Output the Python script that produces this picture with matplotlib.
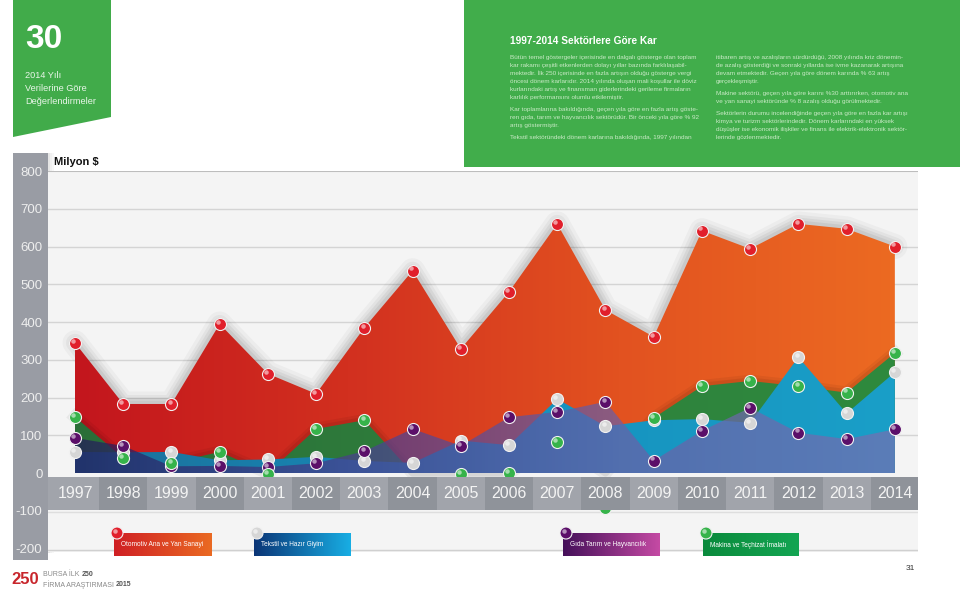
import numpy as np
import matplotlib
matplotlib.use('Agg')
import matplotlib.pyplot as plt
from matplotlib.patches import Rectangle, Polygon
from matplotlib.colors import LinearSegmentedColormap

# data (Milyon $)
years = np.arange(1997, 2015)
year_labels = [str(y) for y in years]
otomotiv = [345, 183, 183, 395, 263, 210, 385, 536, 329, 480, 660, 432, 361, 642, 594, 660, 647, 600]
tekstil = [56, 55, 56, 34, 36, 43, 32, 27, 86, 74, 196, 124, 140, 143, 133, 307, 158, 267]
gida = [93, 72, 18, 19, 16, 26, 58, 117, 72, 148, 162, 189, 33, 112, 173, 107, 90, 116]
makina = [149, 40, 27, 56, -2, 117, 140, -35, -3, 0, 82, -93, 146, 230, 244, 230, 213, 318]
y_ticks = [800, 700, 600, 500, 400, 300, 200, 100, 0, -100, -200]
legend_names = ['Otomotiv Ana ve Yan Sanayi', 'Tekstil ve Hazır Giyim',
                'Gıda Tarım ve Hayvancılık', 'Makina ve Teçhizat İmalatı']

title = '1997-2014 Sektörlere Göre Kar'
col_left = [
    'Bütün temel göstergeler içerisinde en dalgalı gösterge olan toplam',
    'kar rakamı çeşitli etkenlerden dolayı yıllar bazında farklılaşabil-',
    'mektedir. İlk 250 içerisinde en fazla artışın olduğu gösterge vergi',
    'öncesi dönem karlarıdır. 2014 yılında oluşan mali koşullar ile döviz',
    'kurlarındaki artış ve finansman giderlerindeki gerileme firmaların',
    'karlılık performansını olumlu etkilemiştir.',
    '',
    'Kar toplamlarına bakıldığında, geçen yıla göre en fazla artış göste-',
    'ren gıda, tarım ve hayvancılık sektörüdür. Bir önceki yıla göre % 92',
    'artış göstermiştir.',
    '',
    'Tekstil sektöründeki dönem karlarına bakıldığında, 1997 yılından',
]
col_right = [
    'itibaren artış ve azalışların sürdürdüğü, 2008 yılında kriz dönemin-',
    'de azalış gösterdiği ve sonraki yıllarda ise ivme kazanarak artışına',
    'devam etmektedir. Geçen yıla göre dönem karında % 63 artış',
    'gerçekleşmiştir.',
    '',
    'Makine sektörü, geçen yıla göre karını %30 arttırırken, otomotiv ana',
    've yan sanayi sektöründe % 8 azalış olduğu görülmektedir.',
    '',
    'Sektörlerin durumu incelendiğinde geçen yıla göre en fazla kar artışı',
    'kimya ve turizm sektörlerindedir. Dönem karlarındaki en yüksek',
    'düşüşler ise ekonomik ilişkiler ve finans ile elektrik-elektronik sektör-',
    'lerinde gözlenmektedir.',
]

plt.rcParams['font.family'] = ['Liberation Sans', 'DejaVu Sans']

W, H = 960, 590
fig = plt.figure(figsize=(9.6, 5.9), dpi=100)


def box(x0, y0, x1, y1):
    return [x0 / W, 1 - y1 / H, (x1 - x0) / W, (y1 - y0) / H]


def grad_cmap(colors):
    return LinearSegmentedColormap.from_list('g', colors)


# background layer in pixel coords
bg = fig.add_axes([0, 0, 1, 1], zorder=0)
bg.set_xlim(0, W)
bg.set_ylim(H, 0)
bg.axis('off')
bg.add_patch(Polygon([(13, 0), (111, 0), (111, 117), (13, 137)], closed=True,
                     fc='#41ab4a', ec='none'))
bg.add_patch(Rectangle((464, 0), 496, 167, fc='#41ad4b', ec='none'))
bg.add_patch(Rectangle((13, 153), 35, 407, fc='#999ca4', ec='none'))
for k, a in enumerate([0.10, 0.06, 0.03]):
    bg.add_patch(Rectangle((48 + k * 2, 153), 2, 400, fc='k', alpha=a, ec='none'))

bg.text(25, 40, '30', color='white', fontsize=24, fontweight='bold', va='center', ha='left')
for i, s in enumerate(['2014 Yılı', 'Verilerine Göre', 'Değerlendirmeler']):
    bg.text(25, 75 + i * 13.5, s, color='#e9f6e9', fontsize=6.6, va='center', ha='left')

bg.text(510, 41, title, color='white', fontsize=7.3, fontweight='bold', va='center', ha='left')
pale = '#c9eac6'


def para(x, lines, y0):
    y = y0
    for s in lines:
        if s == '':
            y += 4
            continue
        bg.text(x, y, s, color=pale, fontsize=4.6, va='center', ha='left')
        y += 8


para(510, col_left, 57.3)
para(716, col_right, 57.3)

bg.text(54, 162, 'Milyon $', color='#111111', fontsize=8, fontweight='bold', va='center', ha='left')

# footer
bg.text(11, 580, '250', color='#c8262c', fontsize=12, fontweight='bold', va='center', ha='left')
t1 = bg.text(43, 575, 'BURSA İLK ', color='#8a8a8a', fontsize=5, va='center', ha='left')
bg.annotate('250', xy=(1, 0.5), xycoords=t1, color='#555555', fontsize=5, fontweight='bold',
            va='center', ha='left')
t2 = bg.text(43, 585, 'FİRMA ARAŞTIRMASI ', color='#8a8a8a', fontsize=5, va='center', ha='left')
bg.annotate('2015', xy=(1, 0.5), xycoords=t2, color='#555555', fontsize=5, fontweight='bold',
            va='center', ha='left')
bg.text(915, 569, '31', color='#333333', fontsize=6, va='center', ha='right')

# main chart
ax = fig.add_axes(box(48, 171, 918, 552), zorder=1)
ax.set_facecolor('#f4f4f4')
x_lo, x_hi = 1996.44, 2014.48
y_lo, y_hi = -209, 800
for sp in ax.spines.values():
    sp.set_visible(False)
for v in y_ticks[1:8]:
    ax.axhline(v, color='#d4d4d4', lw=1, zorder=0)
ax.axhline(800, color='#bdbdbd', lw=1.5, zorder=0)
ax.axhline(-103, color='#dedede', lw=1, zorder=0)
ax.axhline(-205, color='#d0d0d0', lw=1, zorder=0)


def grad_fill(x, y, colors, z, alpha=1.0):
    yc = np.clip(np.asarray(y, float), 0, None)
    verts = [(x[0], 0)] + list(zip(x, yc)) + [(x[-1], 0)]
    poly = Polygon(verts, closed=True, fc='none', ec='none')
    ax.add_patch(poly)
    g = np.linspace(0, 1, 256).reshape(1, -1)
    im = ax.imshow(g, cmap=grad_cmap(colors), extent=[x[0], x[-1], 0, yc.max()],
                   aspect='auto', zorder=z, alpha=alpha, interpolation='bilinear')
    im.set_clip_path(poly)


# soft shadow around the red area
for lw, a in [(18, 0.03), (13, 0.04), (9, 0.05), (5, 0.06)]:
    ax.plot(years, otomotiv, color='k', lw=lw, alpha=a, zorder=1.5,
            solid_joinstyle='round', solid_capstyle='round')
grad_fill(years, otomotiv, ['#c3161d', '#d2301f', '#e25220', '#ec6a22'], 2)
for lw, a in [(9, 0.05), (5, 0.07)]:
    ax.plot(years, np.clip(makina, 0, None), color='k', lw=lw, alpha=a, zorder=2.2,
            solid_joinstyle='round')
grad_fill(years, makina, ['#2a6e38', '#2f7f3c', '#2e8a3e'], 2.5)
grad_fill(years, tekstil, ['#1c6f9a', '#1590bd', '#1a9fc8'], 3)
grad_fill(years, gida, ['#241c5a', '#4a3f8e', '#6a60a8', '#7570b2'], 3.5, alpha=0.72)


def balls(a, xs, ys, color, s, z, dx, dy):
    xs = np.asarray(xs, float)
    ys = np.asarray(ys, float)
    a.scatter(xs, ys, s=s, c=color, edgecolors='#f2f2f2', linewidths=0.8, zorder=z)
    a.scatter(xs - dx, ys + dy, s=s * 0.14, c='white', alpha=0.55, linewidths=0, zorder=z + 0.01)


dx, dy = 1.8 / 48.2, 2.2 / 0.3775
balls(ax, years, tekstil, '#d6d6d6', 75, 4.0, dx, dy)
balls(ax, years, gida, '#5b0f69', 75, 4.1, dx, dy)
balls(ax, years, makina, '#36b34a', 75, 4.2, dx, dy)
balls(ax, years, otomotiv, '#e11f2b', 75, 4.3, dx, dy)

# year band
for i, yr in enumerate(years):
    left = yr - 0.5 if i > 0 else x_lo
    right = yr + 0.5 if i < len(years) - 1 else x_hi
    ax.add_patch(Rectangle((left, -98), right - left, 87.5,
                           fc='#a1a4ab' if i % 2 == 0 else '#8f939a', ec='none', zorder=6))
    ax.text(yr, -54, year_labels[i], color='#f3f3f3', fontsize=11.5, ha='center', va='center',
            zorder=7)

ax.set_xlim(x_lo, x_hi)
ax.set_ylim(y_lo, y_hi)
ax.set_xticks([])
ax.set_yticks(y_ticks)
ax.set_yticklabels([str(v) for v in y_ticks])
ax.tick_params(axis='y', length=0, pad=4, labelsize=9.5, labelcolor='#eeeeee')

# legend layer in pixel coords
ov = fig.add_axes([0, 0, 1, 1], zorder=2)
ov.patch.set_alpha(0)
ov.axis('off')
leg_boxes = [(114, 212), (254, 351), (563, 660), (703, 799)]
leg_grads = [['#cf1f24', '#ea6a22'], ['#0b3576', '#18aee4'],
             ['#45105a', '#c54aa4'], ['#0a8a3c', '#13a552']]
leg_balls = ['#e11f2b', '#d6d6d6', '#5b0f69', '#36b34a']
g = np.linspace(0, 1, 256).reshape(1, -1)
for (a, b), cols, name in zip(leg_boxes, leg_grads, legend_names):
    ov.imshow(g, cmap=grad_cmap(cols), extent=[a, b, 556, 533], aspect='auto', zorder=1)
    ov.text(a + 7, 545, name, color='white', fontsize=4.7, va='center', ha='left', zorder=2)
bx = [b[0] + 3 for b in leg_boxes]
balls(ov, bx, [533] * 4, leg_balls, 75, 3, 1.8, -2.2)
ov.set_xlim(0, W)
ov.set_ylim(H, 0)

fig.savefig('out.png', dpi=100)
